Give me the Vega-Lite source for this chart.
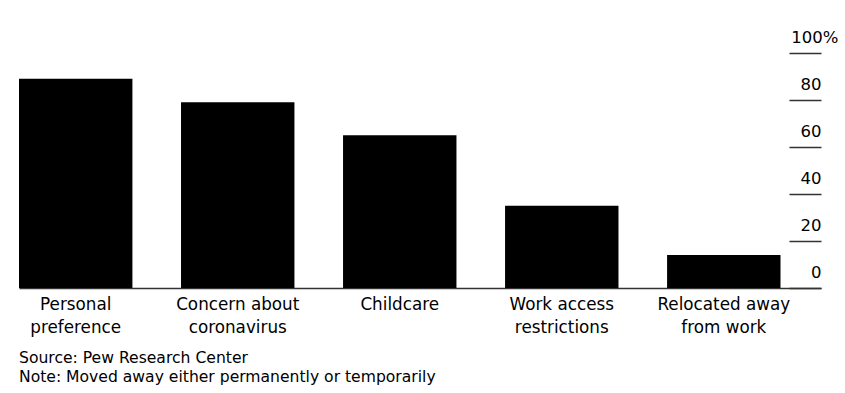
{
  "$schema": "https://vega.github.io/schema/vega-lite/v6.json",
  "autosize": {"type": "none"},
  "padding": {"left": 19, "top": 53, "right": 24, "bottom": 105},
  "width": 802,
  "height": 235,
  "background": "white",
  "config": {"view": {"stroke": null}},
  "data": {
    "values": [
      {"reason": "Personal preference", "share": 89},
      {"reason": "Concern about coronavirus", "share": 79},
      {"reason": "Childcare", "share": 65},
      {"reason": "Work access restrictions", "share": 35},
      {"reason": "Relocated away from work", "share": 14}
    ]
  },
  "title": {
    "text": ["Source: Pew Research Center", "Note: Moved away either permanently or temporarily"],
    "orient": "bottom",
    "anchor": "start",
    "frame": "group",
    "font": "DejaVu Sans",
    "fontSize": 15.6,
    "fontWeight": "normal",
    "color": "#000000",
    "lineHeight": 19,
    "baseline": "top",
    "offset": 15
  },
  "mark": {"type": "bar", "color": "#000000"},
  "encoding": {
    "x": {
      "field": "reason",
      "type": "nominal",
      "sort": null,
      "scale": {"paddingInner": 0.3, "paddingOuter": 0.125, "align": 0},
      "axis": {
        "title": null,
        "ticks": false,
        "labelAngle": 0,
        "labelFont": "DejaVu Sans",
        "labelFontSize": 16.8,
        "labelColor": "#000000",
        "labelBaseline": "top",
        "labelPadding": 8,
        "labelLineHeight": 23,
        "labelAlign": "center",
        "labelExpr": "datum.label == 'Personal preference' ? ['Personal', 'preference'] : datum.label == 'Concern about coronavirus' ? ['Concern about', 'coronavirus'] : datum.label == 'Work access restrictions' ? ['Work access', 'restrictions'] : datum.label == 'Relocated away from work' ? ['Relocated away', 'from work'] : datum.label",
        "domainColor": "#333333",
        "domainWidth": 1.5
      }
    },
    "y": {
      "field": "share",
      "type": "quantitative",
      "scale": {"domain": [0, 100], "nice": false},
      "axis": {
        "orient": "right",
        "title": null,
        "values": [0, 20, 40, 60, 80, 100],
        "domain": false,
        "grid": false,
        "tickSize": -32,
        "tickColor": "#333333",
        "tickWidth": 1.5,
        "labelFont": "DejaVu Sans",
        "labelFontSize": 16.5,
        "labelColor": "#000000",
        "labelAlign": "right",
        "labelBaseline": "alphabetic",
        "labelOffset": -11,
        "labelOverlap": false,
        "labelPadding": {"condition": {"test": "datum.value == 100", "value": 49}, "value": 32},
        "labelExpr": "datum.value == 100 ? '100%' : datum.label"
      }
    }
  }
}
